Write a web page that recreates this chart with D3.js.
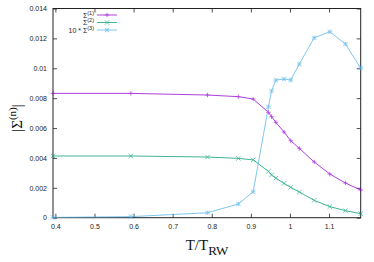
<!DOCTYPE html>
<html><head><meta charset="utf-8">
<script src="https://cdn.jsdelivr.net/npm/d3@7"></script>
<style>body{margin:0;background:#fff}svg{display:block}</style>
</head><body>
<svg id="c" width="374" height="262"></svg>
<script>
const T = [0.394, 0.593, 0.789, 0.868, 0.906, 0.945, 0.953, 0.964, 0.985, 1.002, 1.024, 1.062, 1.102, 1.142, 1.181];
const sigma1 = [0.00832, 0.00832, 0.00821, 0.00810, 0.00794, 0.00705, 0.00676, 0.00638, 0.00573, 0.00515, 0.00464, 0.00373, 0.00292, 0.00232, 0.00185];
const sigma2 = [0.00413, 0.00413, 0.00406, 0.00397, 0.00387, 0.00310, 0.00286, 0.00264, 0.00230, 0.00203, 0.00172, 0.00116, 0.00074, 0.00047, 0.00027];
const sigma3x10 = [0.00002, 0.00007, 0.00033, 0.00092, 0.00174, 0.00742, 0.00848, 0.00921, 0.00928, 0.00921, 0.01028, 0.01204, 0.01244, 0.01162, 0.01001];
const xTicks = [0.4, 0.5, 0.6, 0.7, 0.8, 0.9, 1.0, 1.1];
const xTickLabels = ["0.4", "0.5", "0.6", "0.7", "0.8", "0.9", "1", "1.1"];
const yTicks = [0, 0.002, 0.004, 0.006, 0.008, 0.010, 0.012, 0.014];
const yTickLabels = ["0", "0.002", "0.004", "0.006", "0.008", "0.01", "0.012", "0.014"];
const seriesNames = ["1", "2", "3"];
const seriesPrefix = ["", "", "10 * "];

const L = 53, R = 360.7, Tp = 8.5, B = 217.7;
const svg = d3.select("#c");
const x = d3.scaleLinear().domain([0.3939, 1.181]).range([L, R]);
const y = d3.scaleLinear().domain([0, 0.014]).range([B, Tp]);
const font = "Liberation Sans, Arial, sans-serif";

// axes with inward ticks
const tl = 4;
const gB = svg.append("g").attr("transform", `translate(0,${B})`)
  .call(d3.axisBottom(x).tickValues(xTicks).tickFormat((d,i)=>xTickLabels[i]).tickSizeInner(-tl).tickSizeOuter(0).tickPadding(6));
const gT = svg.append("g").attr("transform", `translate(0,${Tp})`)
  .call(d3.axisTop(x).tickValues(xTicks).tickFormat("").tickSizeInner(-tl).tickSizeOuter(0));
const gL = svg.append("g").attr("transform", `translate(${L},0)`)
  .call(d3.axisLeft(y).tickValues(yTicks).tickFormat((d,i)=>yTickLabels[i]).tickSizeInner(-tl).tickSizeOuter(0).tickPadding(6));
const gR = svg.append("g").attr("transform", `translate(${R},0)`)
  .call(d3.axisRight(y).tickValues(yTicks).tickFormat("").tickSizeInner(-tl).tickSizeOuter(0));
[gB,gT,gL,gR].forEach(g=>{
  g.select(".domain").remove();
  g.selectAll(".tick line").attr("stroke","#222").attr("stroke-width",0.8);
  g.selectAll("text").attr("font-family",font).attr("font-size",7).attr("fill","#222");
});
svg.append("rect").attr("x",L).attr("y",Tp).attr("width",R-L).attr("height",B-Tp)
  .attr("fill","none").attr("stroke","#222").attr("stroke-width",1);

const colors = ["#9400d3", "#009e73", "#56b4e9"];
const data = [sigma1, sigma2, sigma3x10];
const line = d3.line().x((d,i)=>x(T[i])).y(d=>y(d));
const ms = 2.2;
function marker(g, k, cx, cy, c) {
  const s = ms;
  const segs = [];
  if (k === 0 || k === 2) { segs.push([cx-s,cy,cx+s,cy],[cx,cy-s,cx,cy+s]); }
  if (k === 1 || k === 2) { segs.push([cx-s,cy-s,cx+s,cy+s],[cx-s,cy+s,cx+s,cy-s]); }
  segs.forEach(q=>g.append("line").attr("x1",q[0]).attr("y1",q[1]).attr("x2",q[2]).attr("y2",q[3])
    .attr("stroke",c).attr("stroke-width",0.8));
}
data.forEach((vals,k)=>{
  const g = svg.append("g").attr("opacity",0.75);
  g.append("path").datum(vals).attr("d",line).attr("fill","none").attr("stroke",colors[k]).attr("stroke-width",1);
  vals.forEach((v,i)=>marker(g,k,x(T[i]),y(v),colors[k]));
});

// legend
const legY = [15, 22.5, 30];
seriesNames.forEach((n,k)=>{
  const t = svg.append("text").attr("x",94).attr("y",legY[k]+2.5).attr("text-anchor","end")
    .attr("font-family",font).attr("font-size",7).attr("fill","#222");
  t.append("tspan").text(seriesPrefix[k] + "Σ");
  t.append("tspan").attr("dy",-3).attr("font-size",5.5).text("(" + n + ")");
  const g = svg.append("g").attr("opacity",0.75);
  g.append("line").attr("x1",97).attr("x2",117).attr("y1",legY[k]).attr("y2",legY[k]).attr("stroke",colors[k]).attr("stroke-width",1);
  marker(g,k,107,legY[k],colors[k]);
});

// axis titles
const yl = svg.append("text").attr("transform","translate(22,118) rotate(-90)").attr("text-anchor","middle")
  .attr("font-family","Liberation Serif, Times New Roman, serif").attr("font-size",15).attr("fill","#111");
yl.append("tspan").text("|Σ");
yl.append("tspan").attr("dy",-6).attr("font-size",11).text("(n)");
yl.append("tspan").attr("dy",6).text("|");

const xl = svg.append("text").attr("x",207).attr("y",250).attr("text-anchor","middle")
  .attr("font-family","Liberation Serif, Times New Roman, serif").attr("font-size",15).attr("fill","#111");
xl.append("tspan").text("T/T");
xl.append("tspan").attr("dy",5).attr("font-size",13).text("RW");
</script>
</body></html>
